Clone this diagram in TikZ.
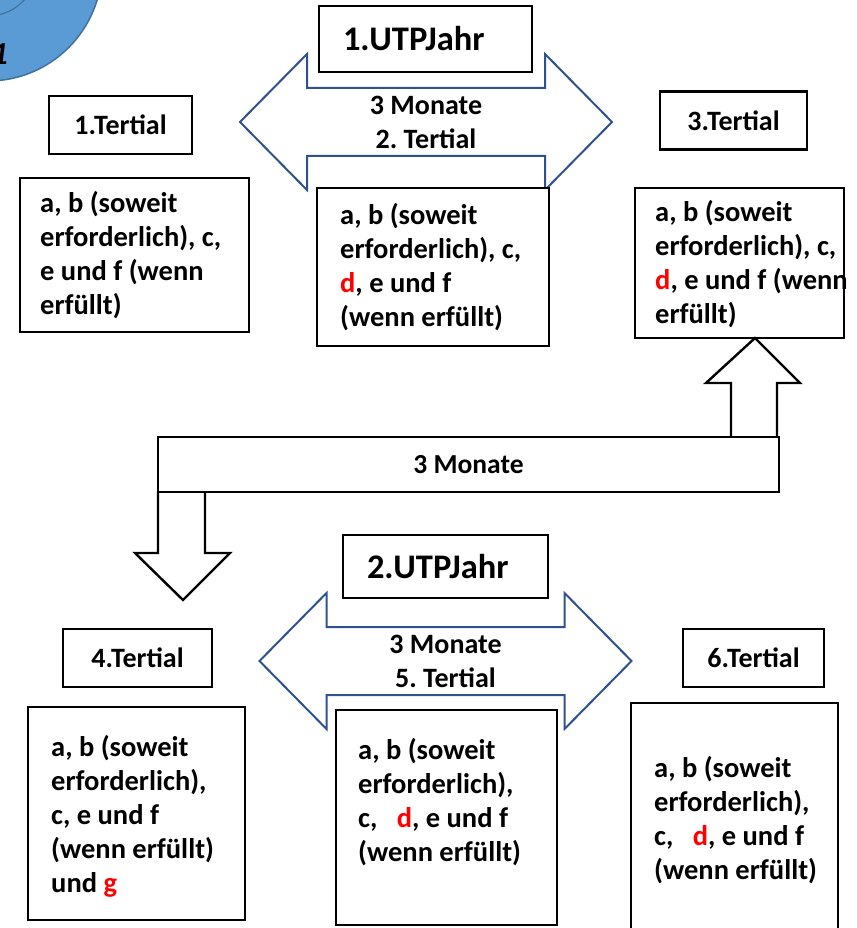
\documentclass[tikz,border=0pt]{standalone}
\usepackage{fontspec}
\setmainfont{Carlito}
\usetikzlibrary{calc}
\definecolor{ringblue}{RGB}{91,155,213}
\definecolor{ringline}{RGB}{65,113,156}
\definecolor{arrowblue}{RGB}{47,82,143}

\begin{document}
\frenchspacing
\begin{tikzpicture}[x=1pt,y=-1pt,
     tbox/.style={draw,line width=2.4pt,fill=white,inner sep=0pt,font=\fontsize{28}{33}\selectfont\bfseries},
     cbox/.style={draw,line width=2.4pt,fill=white,inner sep=0pt},
     ctext/.style={anchor=west,align=flush left,inner sep=0pt,
        font=\fontsize{28.5}{34}\selectfont\bfseries},
     utp/.style={draw,line width=2.4pt,fill=white,align=flush left,inner xsep=24pt,inner ysep=0pt,
        font=\fontsize{34.5}{38}\selectfont\bfseries},
     blockarrow/.style={draw=arrowblue,line width=2pt,fill=white,line join=miter},
     blockup/.style={draw=black,line width=2.4pt,fill=white,line join=miter},
     atext/.style={align=center,inner sep=0pt,font=\fontsize{28}{34}\selectfont\bfseries}
     ]
\useasboundingbox (0,0) rectangle (856,928);
\clip (0,0) rectangle (856,928);

%Blue disc in the corner
\filldraw[fill=ringblue,draw=ringline,line width=1.5pt] (-12,-33) circle [radius=114pt];
\draw[ringline,line width=1.2pt] (-12,-33) circle [radius=49pt];
\node[anchor=base east,inner sep=0pt,font=\fontsize{32}{32}\selectfont\bfseries\itshape] (eins) at (8,65) {1};

%Double arrows of the two years
\def \tip{186}
\def \notch{119}
\def \head{68}
\def \shaft{34}
\foreach \cx/\cy/\nm/\lab in {426/122/jahrA/2. Tertial, 445.5/661/jahrB/5. Tertial}
   {
\draw[blockarrow] (\cx-\tip,\cy) -- (\cx-\notch,\cy-\head) -- (\cx-\notch,\cy-\shaft)
   -- (\cx+\notch,\cy-\shaft) -- (\cx+\notch,\cy-\head) -- (\cx+\tip,\cy)
   -- (\cx+\notch,\cy+\head) -- (\cx+\notch,\cy+\shaft) -- (\cx-\notch,\cy+\shaft)
   -- (\cx-\notch,\cy+\head) -- cycle;
\node[atext] (\nm) at (\cx,\cy) {3 Monate\\\lab};
   }

%Year boxes
\node[utp,text width=165pt,minimum height=66pt] (utpA) at (425.5,39) {1.UTPJahr};
\node[utp,text width=157pt,minimum height=63pt] (utpB) at (445.5,566.5) {2.UTPJahr};

%Tertial headings
\foreach \nm/\x/\y/\w/\lab in {terA/120.5/125/143/1.Tertial, terC/733.5/120.5/147/3.Tertial,
   terD/137.5/658/149/4.Tertial, terF/753.5/658/141/6.Tertial}
   {
\node[tbox,minimum width=\w pt,minimum height=58pt] (\nm) at (\x,\y) {\lab};
   }

%Boxes of the contents
\foreach \nm/\x/\y/\w/\h in {boxA/134.5/255/229/154, boxB/433/267/232/158, boxC/739.5/263/209/150,
   boxD/136.5/813.5/217/213, boxE/446.5/817.5/221/215, boxF/734.5/820/207/234}
   {
\node[cbox,minimum width=\w pt,minimum height=\h pt] (\nm) at (\x,\y) {};
   }

%Contents of each tertial
\node[ctext] (inA) at (40,255.5) {a, b (soweit\\erforderlich), c,\\e und f (wenn\\erfüllt)};
\node[ctext] (inB) at (340,267.5) {a, b (soweit\\erforderlich), c,\\\textcolor{red}{d}, e und f\\(wenn erfüllt)};
\node[ctext] (inC) at (655,264) {a, b (soweit\\erforderlich), c,\\\textcolor{red}{d}, e und f (wenn\\erfüllt)};
\node[ctext] (inD) at (51,816.5) {a, b (soweit\\erforderlich),\\c, e und f\\(wenn erfüllt)\\und \textcolor{red}{g}};
\node[ctext] (inE) at (358,802.5) {a, b (soweit\\erforderlich),\\c,\ \ \ \textcolor{red}{d}, e und f\\(wenn erfüllt)};
\node[ctext] (inF) at (654,820) {a, b (soweit\\erforderlich),\\c,\ \ \ \textcolor{red}{d}, e und f\\(wenn erfüllt)};

%Bar of 3 months with the arrows up and down
\draw[blockup] (731,437) -- (731,383) -- (706,383) -- (755,338) -- (800,383) -- (777,383) -- (777,437);
\draw[blockup] (158,492) -- (158,553) -- (135,553) -- (183,600) -- (230,553) -- (205,553) -- (205,492);
\node[tbox,minimum width=621pt,minimum height=55pt,font=\fontsize{27.5}{30}\selectfont\bfseries] (bar) at (468.5,464.5) {3 Monate};
\end{tikzpicture}
\end{document}
